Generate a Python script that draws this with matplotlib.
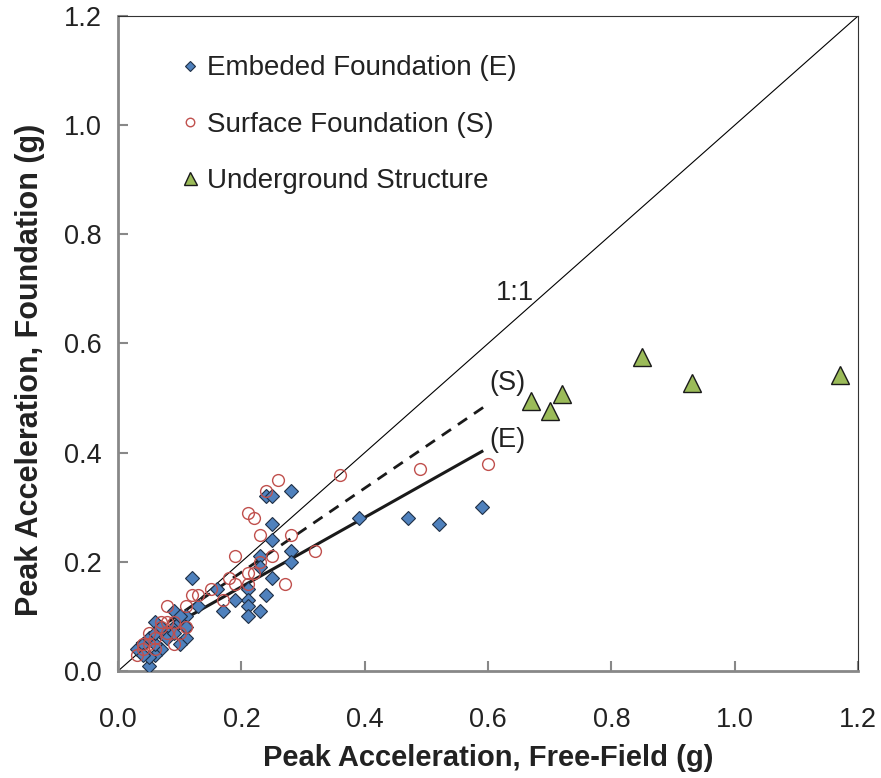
import numpy as np
import matplotlib
matplotlib.use('Agg')
import matplotlib.pyplot as plt

plt.rcParams['font.family'] = ['Liberation Sans', 'DejaVu Sans']

# embeded foundation (E)
e_x = [0.28, 0.24, 0.25, 0.25, 0.25, 0.28, 0.28, 0.23, 0.23, 0.25, 0.12, 0.21, 0.21, 0.21, 0.21,
       0.23, 0.24, 0.19, 0.17, 0.16, 0.13, 0.09, 0.11, 0.06, 0.11, 0.10, 0.07, 0.06, 0.05, 0.03,
       0.09, 0.08, 0.05, 0.39, 0.47, 0.52, 0.59, 0.04, 0.05, 0.06, 0.07, 0.08, 0.10, 0.11, 0.04,
       0.06, 0.07, 0.09, 0.10]
e_y = [0.33, 0.32, 0.32, 0.27, 0.24, 0.22, 0.20, 0.21, 0.19, 0.17, 0.17, 0.15, 0.13, 0.12, 0.10,
       0.11, 0.14, 0.13, 0.11, 0.15, 0.12, 0.11, 0.10, 0.09, 0.06, 0.05, 0.04, 0.03, 0.01, 0.04,
       0.08, 0.07, 0.025, 0.28, 0.28, 0.27, 0.30, 0.05, 0.06, 0.05, 0.07, 0.06, 0.09, 0.08, 0.03,
       0.07, 0.08, 0.07, 0.10]

# surface foundation (S)
s_x = [0.26, 0.24, 0.21, 0.22, 0.23, 0.28, 0.25, 0.19, 0.23, 0.21, 0.22, 0.18, 0.19, 0.21, 0.27,
       0.15, 0.17, 0.12, 0.11, 0.08, 0.07, 0.08, 0.11, 0.09, 0.10, 0.05, 0.05, 0.03, 0.04, 0.36,
       0.49, 0.60, 0.32, 0.06, 0.07, 0.08, 0.09, 0.06, 0.04, 0.13]
s_y = [0.35, 0.33, 0.29, 0.28, 0.25, 0.25, 0.21, 0.21, 0.20, 0.18, 0.18, 0.17, 0.16, 0.16, 0.16,
       0.15, 0.13, 0.14, 0.12, 0.12, 0.09, 0.09, 0.08, 0.05, 0.07, 0.07, 0.05, 0.03, 0.05, 0.36,
       0.37, 0.38, 0.22, 0.06, 0.08, 0.07, 0.09, 0.04, 0.04, 0.14]

# underground structures
u_x = [0.67, 0.72, 0.70, 0.85, 0.93, 1.17]
u_y = [0.495, 0.507, 0.477, 0.576, 0.528, 0.542]

# trend lines y = a + b*x
fit_e = (0.027, 0.636)
fit_s = (0.027, 0.77)
fit_range_e = (0.03, 0.59)
fit_range_s = (0.03, 0.60)

fig = plt.figure(figsize=(8.81, 7.78), dpi=100)
ax = fig.add_axes([0.134, 0.1375, 0.84, 0.842])

ax.plot([0, 1.2], [0, 1.2], color='black', linewidth=0.8, zorder=1)
xe = np.array(fit_range_e)
ax.plot(xe, fit_e[0] + fit_e[1]*xe, color='#1a1a1a', linewidth=2.2, zorder=3)
xs = np.array(fit_range_s)
ax.plot(xs, fit_s[0] + fit_s[1]*xs, color='#1a1a1a', linewidth=2.0, linestyle=(0, (4, 3)), zorder=3)

ax.plot(e_x, e_y, linestyle='none', marker='D', markersize=7.5, markerfacecolor='#4f81bd',
        markeredgecolor='#1f2f45', markeredgewidth=0.8, label='Embeded Foundation (E)', zorder=4)
ax.plot(s_x, s_y, linestyle='none', marker='o', markersize=8.5, markerfacecolor='none',
        markeredgecolor='#c0504d', markeredgewidth=1.0, label='Surface Foundation (S)', zorder=5)
ax.plot(u_x, u_y, linestyle='none', marker='^', markersize=13, markerfacecolor='#9bbb59',
        markeredgecolor='#1a1a1a', markeredgewidth=1.0, label='Underground Structure', zorder=5)

ax.text(0.644, 0.693, '1:1', fontsize=19.5, ha='center', va='center', color='#222222')
ax.text(0.632, 0.528, '(S)', fontsize=19.5, ha='center', va='center', color='#222222')
ax.text(0.632, 0.423, '(E)', fontsize=19.5, ha='center', va='center', color='#222222')

ax.set_xlim(0, 1.2)
ax.set_ylim(0, 1.2)
ax.set_xticks(np.arange(0, 1.21, 0.2))
ax.set_yticks(np.arange(0, 1.21, 0.2))
ax.xaxis.set_major_formatter(plt.FormatStrFormatter('%.1f'))
ax.yaxis.set_major_formatter(plt.FormatStrFormatter('%.1f'))
ax.tick_params(direction='in', length=7, width=1.5, color='#888888', labelsize=19.5,
               labelcolor='#222222')
ax.tick_params(axis='x', pad=26)
ax.tick_params(axis='y', pad=12)

ax.spines['left'].set_color('#888888')
ax.spines['bottom'].set_color('#888888')
ax.spines['left'].set_linewidth(2)
ax.spines['bottom'].set_linewidth(2)
ax.spines['top'].set_color('#333333')
ax.spines['right'].set_color('#333333')
ax.spines['top'].set_linewidth(0.8)
ax.spines['right'].set_linewidth(0.8)

ax.set_xlabel('Peak Acceleration, Free-Field (g)', fontsize=21, fontweight='bold',
              color='#222222', labelpad=8)
ax.set_ylabel('Peak Acceleration, Foundation (g)', fontsize=22, fontweight='bold',
              color='#222222')
ax.yaxis.set_label_coords(-0.099, 0.46)

leg = ax.legend(loc='upper left', bbox_to_anchor=(0.0445, 0.978), frameon=False, fontsize=20,
                handletextpad=0.1, labelspacing=1.09, handlelength=1.0, markerscale=0.72)
for t in leg.get_texts():
    t.set_color('#222222')

plt.savefig('out.png', dpi=100)
